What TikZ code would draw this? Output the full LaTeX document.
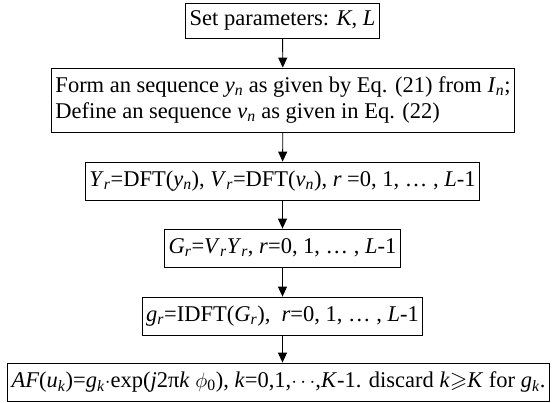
\documentclass[tikz,border=0pt]{standalone}
\usepackage{fontspec}
\usepackage{amssymb}
\setmainfont{Liberation Serif}
\usetikzlibrary{arrows.meta}
\newcommand{\subit}[1]{\textsubscript{\textit{#1}}}
\begin{document}
\begin{tikzpicture}[x=1pt,y=-1pt,
  box/.style={draw, line width=0.8pt, inner xsep=4pt, inner ysep=0pt, minimum height=38pt, font=\fontsize{22.5}{26}\selectfont},
  arr/.style={-{Triangle[length=10pt,width=9pt]}, line width=0.9pt}]
\useasboundingbox (0,0) rectangle (557,402);
\node[box, minimum height=35pt] (b1) at (282.5,20.5) {Set parameters: \textit{K}, \textit{L}};
\node[box, minimum height=64pt, align=left] (b2) at (283,100) {Form an sequence \textit{y}\subit{n} as given by Eq. (21) from \textit{I}\subit{n};\\Define an sequence \textit{v}\subit{n} as given in Eq. (22)};
\node[box] (b3) at (282.5,181) {\textit{Y}\subit{r}=DFT(\textit{y}\subit{n}), \textit{V}\subit{r}=DFT(\textit{v}\subit{n}), \textit{r} =0, 1, … , \textit{L}-1};
\node[box] (b4) at (282.5,248) {\textit{G}\subit{r}=\textit{V}\subit{r}\textit{Y}\subit{r}, \textit{r}=0, 1, … , \textit{L}-1};
\node[box] (b5) at (282.5,316) {\textit{g}\subit{r}=IDFT(\textit{G}\subit{r}),\ \ \textit{r}=0, 1, … , \textit{L}-1};
\node[box, align=left] (b6) at (278.5,382) {\textit{AF}(\textit{u}\subit{k})=\textit{g}\subit{k}$\cdot$exp(\textit{j}2π\textit{k} $\phi$\textsubscript{0}), \textit{k}=0,1,$\cdots$,\textit{K}-1. discard \textit{k}$\geqslant$\textit{K} for \textit{g}\subit{k}.};
\draw[arr] (b1) -- (b2);
\draw[arr] (b2) -- (b3);
\draw[arr] (b3) -- (b4);
\draw[arr] (b4) -- (b5);
\draw[arr] (b5.south) -- (b5.south |- b6.north);
\end{tikzpicture}
\end{document}
